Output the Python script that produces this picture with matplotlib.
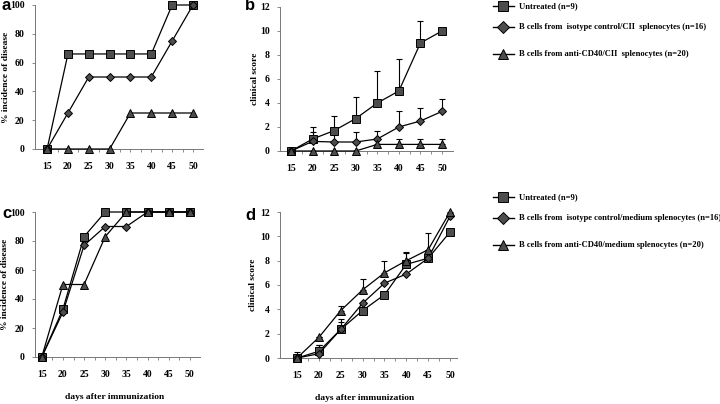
import numpy as np
import matplotlib.pyplot as plt
from matplotlib.lines import Line2D

# dias após imunização
days = [15, 20, 25, 30, 35, 40, 45, 50]

# painel a - % incidência (CII)
a_untreated = [0, 66, 66, 66, 66, 66, 100, 100]
a_isotype = [0, 25, 50, 50, 50, 50, 75, 100]
a_cd40 = [0, 0, 0, 0, 25, 25, 25, 25]

# painel b - escore clínico (CII), com erro para cima
b_untreated = [0, 1.0, 1.7, 2.7, 4.0, 5.0, 9.0, 10.0]
b_untreated_err = [0, 1.0, 1.2, 1.8, 2.7, 2.7, 1.8, 0]
b_isotype = [0, 0.8, 0.75, 0.75, 1.0, 2.0, 2.5, 3.3]
b_isotype_err = [0, 0.8, 0.55, 0.8, 0.7, 1.3, 1.1, 1.05]
b_cd40 = [0, 0, 0, 0, 0.55, 0.55, 0.55, 0.55]
b_cd40_err = [0, 0, 0, 0, 0.45, 0.45, 0.45, 0.45]

# painel c - % incidência (medium)
c_untreated = [0, 33, 83, 100, 100, 100, 100, 100]
c_isotype = [0, 31, 77, 90, 90, 100, 100, 100]
c_cd40 = [0, 50, 50, 83, 100, 100, 100, 100]

# painel d - escore clínico (medium)
d_untreated = [0, 0.55, 2.35, 3.9, 5.2, 7.7, 8.2, 10.35]
d_untreated_err = [0.5, 0.55, 0.6, 0, 0, 0.95, 0, 0]
d_isotype = [0, 0.35, 2.35, 4.5, 6.15, 6.9, 8.2, 11.65]
d_isotype_err = [0, 0.75, 0.85, 0, 0, 0, 2.1, 0.3]
d_cd40 = [0, 1.7, 3.9, 5.6, 7.0, 8.0, 8.9, 12.0]
d_cd40_err = [0, 0, 0.35, 0.9, 1.0, 0.7, 0, 0.2]

labels_top = ["Untreated (n=9)",
              "B cells from  isotype control/CII  splenocytes (n=16)",
              "B cells from anti-CD40/CII  splenocytes (n=20)"]
labels_bottom = ["Untreated (n=9)",
                 "B cells from  isotype control/medium splenocytes (n=16)",
                 "B cells from anti-CD40/medium splenocytes (n=20)"]

serif = "Liberation Serif"
W, H = 720, 404
markers = ['s', 'D', '^']
msizes = [5.5, 4.2, 5.5]
fill = '#4d4d4d'


def px_axes(left, right, top, bottom):
    return fig.add_axes([left / W, 1 - bottom / H, (right - left) / W, (bottom - top) / H])


def style(ax, xlim, ylim, yticks, ylabel, ylab_x, xlabel=None, xlab_y=None):
    ax.set_xlim(xlim)
    ax.set_ylim(ylim)
    ax.set_xticks(days)
    ax.set_xticks(np.arange(17.5, 51, 5), minor=True)
    ax.set_yticks(yticks)
    for s in ['top', 'right']:
        ax.spines[s].set_visible(False)
    for s in ['left', 'bottom']:
        ax.spines[s].set_color('#777777')
        ax.spines[s].set_linewidth(0.7)
    ax.tick_params(axis='both', which='both', direction='out', length=2.5, width=0.6,
                   color='#777777', labelsize=7, pad=5)
    ax.tick_params(axis='x', pad=7)
    for t in ax.get_xticklabels() + ax.get_yticklabels():
        t.set_family(serif)
        t.set_fontweight('bold')
    ax.set_ylabel(ylabel, family=serif, fontweight='bold', fontsize=6.8)
    ax.yaxis.set_label_coords(ylab_x, 0.5)
    if xlabel:
        ax.set_xlabel(xlabel, family=serif, fontweight='bold', fontsize=6.8)
        ax.xaxis.set_label_coords(0.48, xlab_y)


def draw(ax, series, errs=None):
    for i, y in enumerate(series):
        ax.plot(days, y, color='black', lw=0.9, marker=markers[i], ms=msizes[i],
                mfc=fill, mec='black', mew=0.7, clip_on=False, zorder=3)
        if errs is not None:
            e = errs[i]
            ax.errorbar(days, y, yerr=[np.zeros(len(e)), e], fmt='none', ecolor='black',
                        elinewidth=0.8, capsize=2, capthick=0.8, zorder=2)


fig = plt.figure(figsize=(7.2, 4.04), dpi=100)

ax_a = px_axes(35, 203, 5, 149)
draw(ax_a, [a_untreated, a_isotype, a_cd40])
style(ax_a, (12.1, 52.4), (0, 100), range(0, 101, 20), "% incidence of disease", -0.15)

ax_b = px_axes(280, 453, 7, 151)
draw(ax_b, [b_untreated, b_isotype, b_cd40], [b_untreated_err, b_isotype_err, b_cd40_err])
style(ax_b, (12.45, 52.55), (0, 12), range(0, 13, 2), "clinical score", -0.12)

ax_c = px_axes(35, 200, 212, 357)
draw(ax_c, [c_untreated, c_isotype, c_cd40])
style(ax_c, (13.4, 52.4), (0, 100), range(0, 101, 20), "% incidence of disease", -0.155,
      "days after immunization", -0.25)

ax_d = px_axes(280, 457, 212, 358)
draw(ax_d, [d_untreated, d_isotype, d_cd40], [d_untreated_err, d_isotype_err, d_cd40_err])
style(ax_d, (11.1, 51.6), (0, 12), range(0, 13, 2), "clinical score", -0.13,
      "days after immunization", -0.25)

# letras dos painéis
for letter, (x, y) in zip("abcd", [(2, 6), (245, 6), (2, 213), (245, 215)]):
    fig.text(x / W, 1 - y / H, letter, fontsize=12, fontweight='bold',
             family='Liberation Sans', va='center', ha='left')

# legendas desenhadas à mão
for labels, rows in [(labels_top, [6, 27, 54]), (labels_bottom, [197, 218, 245])]:
    for i, (lab, y) in enumerate(zip(labels, rows)):
        yf = 1 - y / H
        fig.add_artist(Line2D([493 / W, 514 / W], [yf, yf], color='black', lw=1.0))
        fig.add_artist(Line2D([503 / W], [yf], marker=markers[i], ms=msizes[i] + 1.5,
                              mfc=fill, mec='black', mew=0.7, color='black'))
        fig.text(519 / W, yf, lab, family=serif, fontweight='bold', fontsize=6.1,
                 va='center', ha='left')

plt.savefig("out.png", dpi=100)
